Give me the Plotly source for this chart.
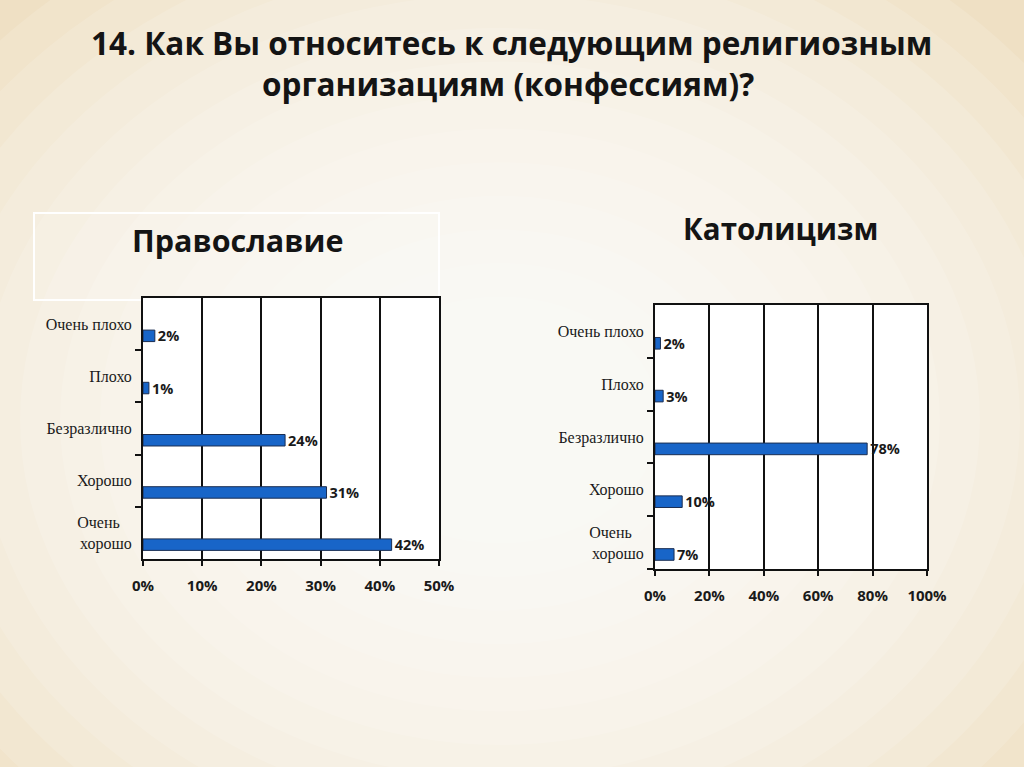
import plotly.graph_objects as go

W, H = 1024, 767

categories = ["Очень плохо", "Плохо", "Безразлично", "Хорошо", "Очень хорошо"]
category_labels = ["Очень плохо", "Плохо", "Безразлично", "Хорошо", "Очень\u00a0\u00a0\u00a0<br>хорошо"]
orthodox_values = [2, 1, 24, 31, 42]
catholic_values = [2, 3, 78, 10, 7]

title_line1 = "14. Как Вы относитесь к следующим религиозным"
title_line2 = "организациям (конфессиям)?"
sub_left = "Православие"
sub_right = "Католицизм"

BAR_FILL = "#1865C8"
BAR_LINE = "#1B2E52"
SERIF = "Liberation Serif"
SANS = "Open Sans"


def px_x(v):
    return v / W


def px_y(v):
    return 1 - v / H


fig = go.Figure()

for vals, xa, ya in [(orthodox_values, "x", "y"), (catholic_values, "x2", "y2")]:
    fig.add_trace(go.Bar(
        x=vals,
        y=categories,
        orientation="h",
        xaxis=xa,
        yaxis=ya,
        width=0.22,
        offset=-0.335,
        marker=dict(color=BAR_FILL, line=dict(color=BAR_LINE, width=1)),
        text=[f"{v}%" for v in vals],
        texttemplate="%{text}",
        textposition="outside",
        constraintext="none",
        cliponaxis=False,
        textfont=dict(family=SANS, size=14.5, color="#1a1a1a", weight="bold"),
        showlegend=False,
        hoverinfo="skip",
    ))

cat_order = categories[::-1]

common_x = dict(
    showline=True, linecolor="#111", linewidth=2, mirror=True,
    showgrid=True, gridcolor="#111", gridwidth=2,
    ticks="outside", ticklen=5, tickcolor="#111", tickwidth=2,
    ticksuffix="%", zeroline=False, automargin=False,
    tickfont=dict(family=SANS, size=15, color="#1a1a1a", weight="bold"),
    ticklabelstandoff=7,
)
common_y = dict(
    type="category", categoryorder="array", categoryarray=cat_order,
    tickmode="array", tickvals=categories, ticktext=category_labels,
    showline=True, linecolor="#111", linewidth=2, mirror=True,
    showgrid=False, ticks="outside", tickson="boundaries",
    ticklen=6, tickcolor="#111", tickwidth=2, automargin=False,
    tickfont=dict(family=SERIF, size=16, color="#1a1a1a"),
    ticklabelstandoff=6,
)

fig.update_layout(
    width=W, height=H, autosize=False,
    margin=dict(l=0, r=0, t=0, b=0, pad=0, autoexpand=False),
    paper_bgcolor="#EFE0C4",
    plot_bgcolor="#FFFFFF",
    xaxis=dict(domain=[px_x(143), px_x(439)], range=[0, 50], dtick=10, anchor="y", **common_x),
    yaxis=dict(domain=[px_y(559), px_y(298)], anchor="x", **common_y),
    xaxis2=dict(domain=[px_x(655), px_x(927)], range=[0, 100], dtick=20, anchor="y2", **common_x),
    yaxis2=dict(domain=[px_y(569), px_y(305)], anchor="x2", **common_y),
)

# soft parchment glow in the background
shapes = []
n = 14
for i in range(n):
    f = 1 - i / n
    rx, ry = 120 + 560 * f, 90 + 470 * f
    cx, cy = 500, 420
    shapes.append(dict(
        type="circle", xref="paper", yref="paper", layer="below",
        x0=px_x(cx - rx), x1=px_x(cx + rx), y0=px_y(cy + ry), y1=px_y(cy - ry),
        fillcolor="#FFFFFF", opacity=0.13, line=dict(width=0),
    ))
# box around the Православие header
shapes.append(dict(
    type="rect", xref="paper", yref="paper", layer="below",
    x0=px_x(34), x1=px_x(439), y0=px_y(300), y1=px_y(213),
    fillcolor="rgba(255,255,255,0.12)", line=dict(color="#FFFFFF", width=2),
))
fig.update_layout(shapes=shapes)

ann = [
    dict(text=title_line1, x=px_x(511), y=px_y(43), size=31.5),
    dict(text=title_line2, x=px_x(508), y=px_y(83), size=31.5),
    dict(text=sub_left, x=px_x(237), y=px_y(240), size=30.5),
    dict(text=sub_right, x=px_x(780), y=px_y(228), size=29.5),
]
for a in ann:
    fig.add_annotation(
        text=a["text"], x=a["x"], y=a["y"], xref="paper", yref="paper",
        xanchor="center", yanchor="middle", showarrow=False,
        font=dict(family=SANS, size=a["size"], color="#141414", weight="bold"),
    )

fig.write_html(
    "out.html",
    config={"displayModeBar": False},
    post_script="document.body.style.margin='0';document.body.style.overflow='hidden';",
)
